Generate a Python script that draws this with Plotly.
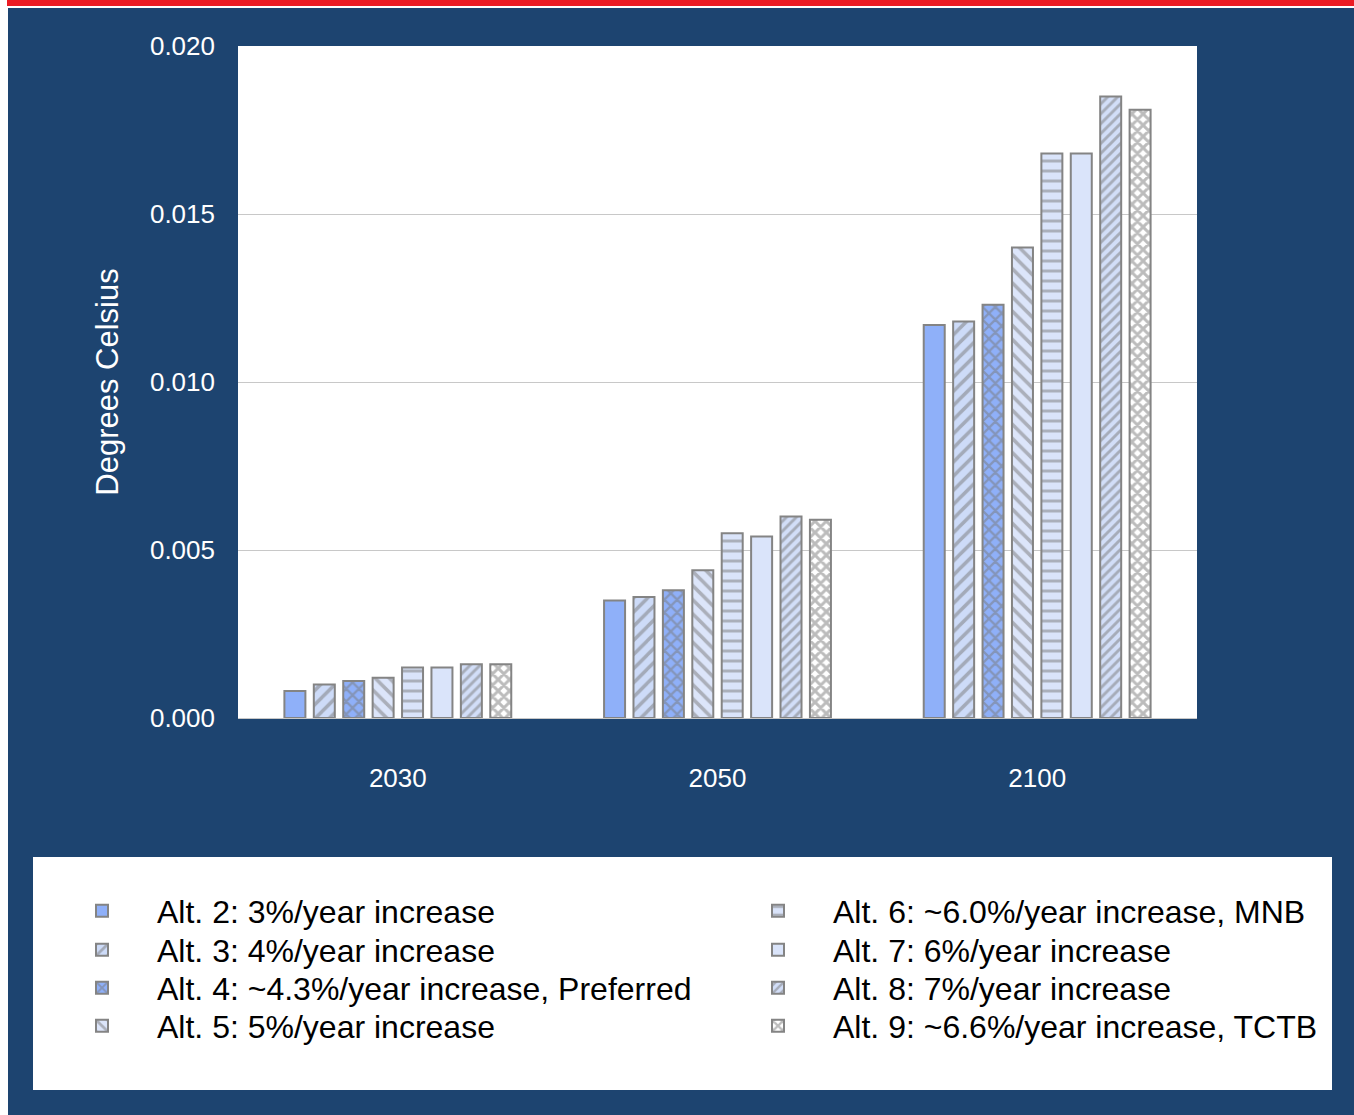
import plotly.graph_objects as go

# Projected temperature change by alternative and year
years = ["2030", "2050", "2100"]

alt_names = [
    "Alt. 2: 3%/year increase",
    "Alt. 3: 4%/year increase",
    "Alt. 4: ~4.3%/year increase, Preferred",
    "Alt. 5: 5%/year increase",
    "Alt. 6: ~6.0%/year increase, MNB",
    "Alt. 7: 6%/year increase",
    "Alt. 8: 7%/year increase",
    "Alt. 9: ~6.6%/year increase, TCTB",
]

alt2 = [0.0008, 0.0035, 0.0117]
alt3 = [0.0010, 0.0036, 0.0118]
alt4 = [0.0011, 0.0038, 0.0123]
alt5 = [0.0012, 0.0044, 0.0140]
alt6 = [0.0015, 0.0055, 0.0168]
alt7 = [0.0015, 0.0054, 0.0168]
alt8 = [0.0016, 0.0060, 0.0185]
alt9 = [0.0016, 0.0059, 0.0181]

y_ticks = [0.000, 0.005, 0.010, 0.015, 0.020]
y_title = "Degrees Celsius"

series = [alt2, alt3, alt4, alt5, alt6, alt7, alt8, alt9]

# Fill / hatch styling for each alternative
EDGE = "#848484"
HATCH = "#7a7a7a"
styles = [
    dict(bg="#8fb0f9", shape="", size=8, sol=0.2),
    dict(bg="#cddbf8", shape="/", size=10, sol=0.35),
    dict(bg="#8fb0f9", shape="x", size=9, sol=0.45),
    dict(bg="#dce5fa", shape="\\", size=10, sol=0.35),
    dict(bg="#dae4fa", shape="-", size=10, sol=0.3),
    dict(bg="#dae4fa", shape="", size=8, sol=0.2),
    dict(bg="#d2def8", shape="/", size=7, sol=0.42),
    dict(bg="#ffffff", shape="x", size=8, sol=0.6),
]

# Canvas geometry
W, H = 1354, 1115
ML, MR, MT, MB = 238, 157, 46, 397
PW, PH = W - ML - MR, H - MT - MB


def px_x(px):
    return (px - ML) / PW


def px_y(py):
    return (H - MB - py) / PH


BLUE = "#1d4470"
WHITE = "#ffffff"
FONT = "Liberation Sans, Arial, sans-serif"

fig = go.Figure()

legend_ids = ["legend"] + [f"legend{i}" for i in range(2, 9)]

for i, (name, vals, st) in enumerate(zip(alt_names, series, styles)):
    marker = dict(color=st["bg"], line=dict(color=EDGE, width=2))
    if st["shape"]:
        marker["pattern"] = dict(
            shape=st["shape"],
            bgcolor=st["bg"],
            fgcolor=HATCH,
            size=st["size"],
            solidity=st["sol"],
            fillmode="overlay",
        )
    fig.add_trace(
        go.Bar(
            x=years,
            y=vals,
            name=name,
            marker=marker,
            legend=legend_ids[i],
        )
    )

# One legend per entry, laid out in two columns inside the key box
left_text_x, right_text_x = 157, 833
row_y = [911, 950, 988, 1026]
legend_layout = {}
for i, lid in enumerate(legend_ids):
    col = 0 if i < 4 else 1
    row = i % 4
    tx = left_text_x if col == 0 else right_text_x
    legend_layout[lid] = dict(
        x=px_x(tx - 110),
        y=px_y(row_y[row]),
        xanchor="left",
        yanchor="middle",
        bgcolor="rgba(0,0,0,0)",
        borderwidth=0,
        itemwidth=100,
        font=dict(family=FONT, size=32, color="#000000"),
        itemclick=False,
        itemdoubleclick=False,
    )

shapes = [
    # white edge strips and the red banner along the top
    dict(type="rect", xref="paper", yref="paper", x0=px_x(0), x1=px_x(8),
         y0=px_y(H), y1=px_y(0), fillcolor=WHITE, line_width=0, layer="below"),
    dict(type="rect", xref="paper", yref="paper", x0=px_x(0), x1=px_x(W),
         y0=px_y(8), y1=px_y(0), fillcolor=WHITE, line_width=0, layer="below"),
    dict(type="rect", xref="paper", yref="paper", x0=px_x(7), x1=px_x(W),
         y0=px_y(6), y1=px_y(0), fillcolor="#ec1c24", line_width=0, layer="below"),
    # key box
    dict(type="rect", xref="paper", yref="paper", x0=px_x(33), x1=px_x(1332),
         y0=px_y(1090), y1=px_y(857), fillcolor=WHITE, line_width=0, layer="below"),
]

fig.update_layout(
    width=W,
    height=H,
    margin=dict(l=ML, r=MR, t=MT, b=MB, pad=0),
    paper_bgcolor=BLUE,
    plot_bgcolor=WHITE,
    barmode="group",
    bargap=0.264,
    bargroupgap=0.286,
    font=dict(family=FONT, color=WHITE),
    shapes=shapes,
    showlegend=True,
    **legend_layout,
)

fig.update_xaxes(
    type="category",
    showgrid=False,
    ticks="",
    showline=True,
    linecolor="#c8c8c8",
    linewidth=1,
    tickfont=dict(family=FONT, size=26, color=WHITE),
    ticklabelstandoff=37,
)

fig.update_yaxes(
    range=[0, 0.020],
    tickvals=y_ticks,
    tickformat=".3f",
    showgrid=True,
    gridcolor="#c8c8c8",
    gridwidth=1,
    zeroline=False,
    ticks="",
    tickfont=dict(family=FONT, size=26, color=WHITE),
    ticklabelstandoff=22,
    title=dict(text=y_title, font=dict(family=FONT, size=31, color=WHITE), standoff=22),
)

fig.write_html("out.html", config={"displayModeBar": False})
